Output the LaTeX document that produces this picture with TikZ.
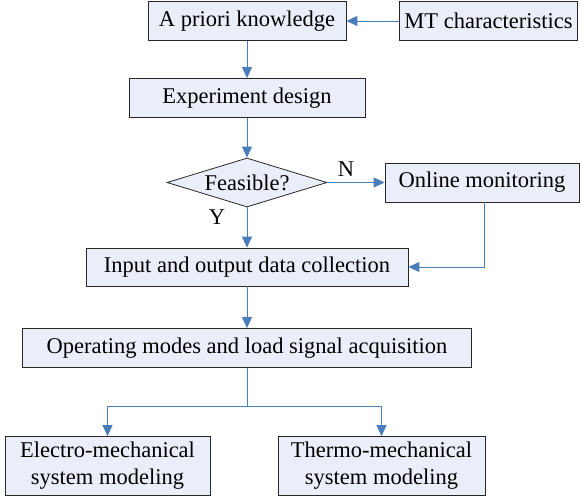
\documentclass[tikz,border=0pt]{standalone}
\usepackage{fontspec}
\setmainfont{Liberation Serif}
\usetikzlibrary{shapes.geometric,arrows.meta}
\definecolor{boxfill}{RGB}{233,238,248}
\definecolor{linkblue}{RGB}{74,126,187}

\begin{document}
\begin{tikzpicture}[x=1pt,y=-1pt,
    box/.style={rectangle,draw=black!85,fill=boxfill,line width=0.8pt,inner sep=0pt,
      font=\fontsize{22.5}{27}\selectfont,align=center},
    link/.style={draw=linkblue,line width=1pt,-{Triangle[width=10pt,length=11pt]}},
    lbl/.style={font=\fontsize{22.5}{27}\selectfont,inner sep=0pt}]
    \useasboundingbox (0,0) rectangle (581,499);
    \node (prior) at (247,21) [box,minimum width=198pt,minimum height=39pt] {A priori knowledge};
    \node (mt) at (488.5,21) [box,minimum width=178pt,minimum height=39pt] {MT characteristics};
    \node (design) at (247,98) [box,minimum width=236pt,minimum height=39pt] {Experiment design};
    \node (feas) at (247,182.5) [diamond,draw=black!85,fill=boxfill,line width=0.8pt,inner sep=0pt,
      aspect=3.27,minimum width=160pt,minimum height=49pt] {};
    \node (feastext) at (feas) [lbl] {Feasible?};
    \node (online) at (482,182.5) [box,minimum width=194pt,minimum height=39pt] {Online monitoring};
    \node (input) at (247,267) [box,minimum width=322pt,minimum height=38pt] {Input and output data collection};
    \node (oper) at (247,348) [box,minimum width=449pt,minimum height=39pt] {Operating modes and load signal acquisition};
    \node (electro) at (107.5,466) [box,minimum width=205pt,minimum height=59pt] {Electro-mechanical\\system modeling};
    \node (thermo) at (381.5,466) [box,minimum width=207pt,minimum height=59pt] {Thermo-mechanical\\system modeling};
    \coordinate (split) at (247,406);
    \node (no) at (346,169) [lbl] {N};
    \node (yes) at (217,217) [lbl] {Y};
    \draw[link] (mt) -- (prior);
    \draw[link] (prior) -- (design);
    \draw[link] (design) -- (feas);
    \draw[link] (feas) -- (online);
    \draw[link] (feas) -- (input);
    \draw[link] (online.south -| 484,0) |- (input.east);
    \draw[link] (input) -- (oper);
    \draw[draw=linkblue,line width=1pt] (oper) -- (split);
    \draw[link] (split) -| (electro.north);
    \draw[link] (split) -| (thermo.north);
  \end{tikzpicture}
\end{document}
